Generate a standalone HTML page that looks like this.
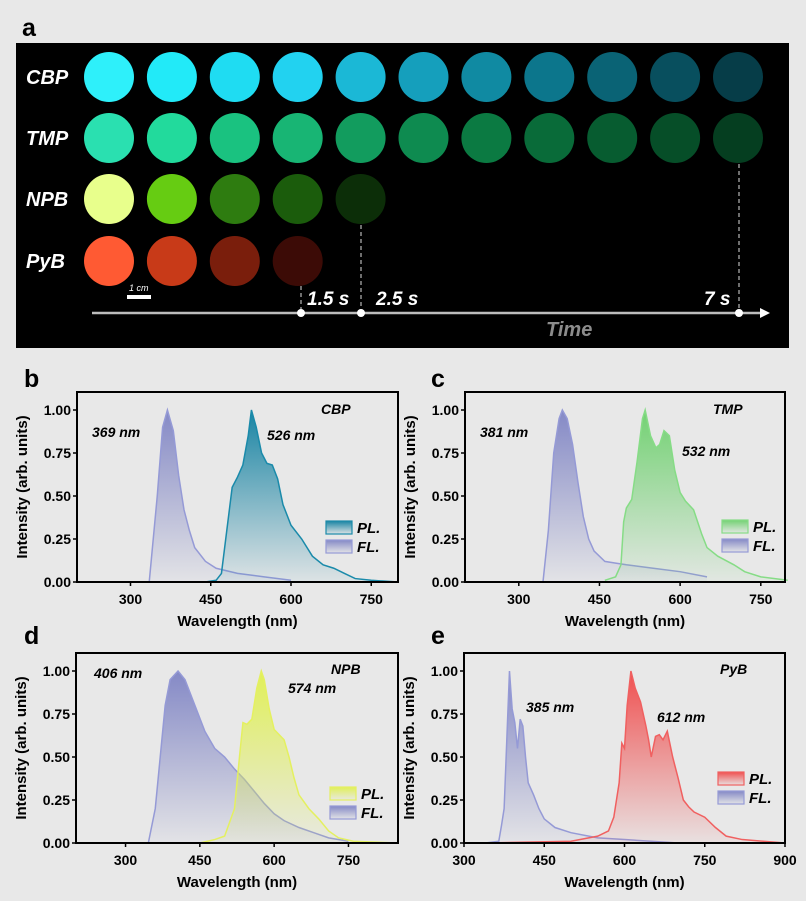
<!DOCTYPE html>
<html><head><meta charset="utf-8"><style>
html,body{margin:0;padding:0;background:#e8e8e8;}
svg{display:block;font-family:"Liberation Sans",sans-serif;}
</style></head><body>
<svg id="fig" width="806" height="901" viewBox="0 0 806 901">
<rect width="806" height="901" fill="#e8e8e8"/>
<text x="22" y="36" font-size="25" font-weight="bold">a</text>
<g id="photo">
<rect x="16" y="43" width="773" height="305" fill="#000"/>
</g>
</svg>
<script>
// Panel a colors
const cbpColors=["#2ef0fa","#22eaf8","#1fdcf2","#22d2f0","#1bb8d6","#159fbc","#108aa2","#0c768c","#0a6375","#084f5e","#063d48"];
const tmpColors=["#2ae0b0","#22da9c","#1ac280","#18b574","#129c5e","#0e8b50","#0b7a42","#096b39","#075c30","#064e28","#053e20"];
const npbColors=["#e8ff8c","#66cc12","#2e7c10","#1b5c0c","#0c2e08"];
const pybColors=["#ff5a33","#c83a18","#7a1e0c","#3c0b06"];
const rowLabels=["CBP","TMP","NPB","PyB"];
const timeLabels=["1.5 s","2.5 s","7 s"];

// Panel b (CBP)
const bFLx=[335,350,360,369,380,390,400,410,420,440,460,500,550,600];
const bFLy=[0,0.5,0.9,1.0,0.88,0.62,0.42,0.3,0.2,0.12,0.08,0.05,0.03,0.01];
const bPLx=[440,460,470,480,490,500,510,520,526,535,545,555,565,575,585,600,620,640,660,680,700,720,750,800];
const bPLy=[0,0.01,0.05,0.3,0.55,0.61,0.68,0.85,1.0,0.9,0.75,0.69,0.68,0.6,0.45,0.33,0.25,0.15,0.1,0.08,0.05,0.02,0.01,0];
// Panel c (TMP)
const cFLx=[345,355,365,375,381,390,400,410,420,430,440,460,480,500,550,600,650];
const cFLy=[0,0.3,0.75,0.95,1.0,0.95,0.8,0.58,0.38,0.25,0.18,0.12,0.11,0.1,0.08,0.06,0.03];
const cPLx=[460,480,490,495,500,510,520,530,535,545,555,562,570,580,590,600,610,625,640,650,670,700,720,750,800];
const cPLy=[0.01,0.03,0.1,0.35,0.43,0.48,0.7,0.95,1.0,0.85,0.78,0.8,0.88,0.85,0.65,0.52,0.47,0.42,0.28,0.2,0.15,0.1,0.06,0.03,0.01];
// Panel d (NPB)
const dFLx=[346,360,370,380,390,406,420,440,460,480,500,520,540,560,580,600,620,650,680,710,750];
const dFLy=[0,0.2,0.5,0.8,0.95,1.0,0.95,0.8,0.65,0.55,0.5,0.43,0.37,0.3,0.23,0.17,0.13,0.09,0.06,0.03,0.01];
const dPLx=[450,480,500,520,530,537,545,555,565,574,580,590,600,610,620,630,640,650,670,690,710,730,760,850];
const dPLy=[0,0.02,0.04,0.2,0.5,0.7,0.69,0.72,0.9,1.0,0.95,0.78,0.66,0.63,0.6,0.5,0.38,0.28,0.2,0.14,0.07,0.03,0.01,0];
// Panel e (PyB)
const eFLx=[340,365,370,375,380,385,390,395,400,405,410,415,420,430,440,450,470,500,550,600,650,700];
const eFLy=[0,0.01,0.1,0.2,0.6,1.0,0.78,0.7,0.55,0.72,0.68,0.5,0.35,0.28,0.2,0.14,0.09,0.06,0.03,0.02,0.01,0];
const ePLx=[340,500,550,570,580,590,595,600,605,612,620,630,640,645,650,658,665,672,680,690,700,710,720,730,750,770,790,820,900];
const ePLy=[0,0.01,0.04,0.07,0.15,0.35,0.58,0.55,0.8,1.0,0.9,0.82,0.68,0.6,0.5,0.62,0.63,0.6,0.65,0.5,0.38,0.25,0.21,0.18,0.15,0.09,0.04,0.02,0];

const yTicks=[0,0.25,0.5,0.75,1.0];
const yTickLabels=["0.00","0.25","0.50","0.75","1.00"];

const NS="http://www.w3.org/2000/svg";
const svg=document.getElementById('fig');
const photo=document.getElementById('photo');
function mk(tag,attrs,parent){const e=document.createElementNS(NS,tag);for(const k in attrs)e.setAttribute(k,attrs[k]);(parent||svg).appendChild(e);return e;}

// ---- Panel a ----
const rows=[cbpColors,tmpColors,npbColors,pybColors];
const rowY=[77,138,199,261];
rows.forEach((cols,r)=>{
  const lab=mk('text',{x:26,y:rowY[r]+7,fill:'#fff','font-size':20,'font-weight':'bold','font-style':'italic'},photo);
  lab.textContent=rowLabels[r];
  
  
  cols.forEach((c,i)=>{
    const cx=109+i*62.9;
    const circ=mk('circle',{cx:cx,cy:rowY[r],r:25,fill:c},photo);
    
    
  });
});
// timeline
const tl=mk('line',{x1:92,y1:313,x2:762,y2:313,stroke:'#bdbdbd','stroke-width':2.5},photo);


const ar=mk('polygon',{points:'760,308 770,313 760,318',fill:'#fff'},photo);


const dotX=[301,361,739],dotTop=[286,225,164],labX=[307,376,704];
dotX.forEach((x,i)=>{
  const dl=mk('line',{x1:x,y1:dotTop[i],x2:x,y2:313,stroke:'#aaa','stroke-width':1.3,'stroke-dasharray':'4,3'},photo);
  
  
  const d=mk('circle',{cx:x,cy:313,r:4,fill:'#fff'},photo);
  
  
  const t=mk('text',{x:labX[i],y:305,fill:'#fff','font-size':19,'font-weight':'bold','font-style':'italic'},photo);
  t.textContent=timeLabels[i];
  
  
});
const tt=mk('text',{x:546,y:336,fill:'#8c8c8c','font-size':20,'font-weight':'bold','font-style':'italic'},photo);
tt.textContent='Time';


const sb=mk('rect',{x:127,y:295,width:24,height:4,fill:'#fff'},photo);


const sbt=mk('text',{x:129,y:291,fill:'#fff','font-size':9,'font-style':'italic'},photo);
sbt.textContent='1 cm';



// ---- Spectra panels ----
const defs=mk('defs',{});
function grad(id,color){
  const g=mk('linearGradient',{id:id,x1:0,y1:0,x2:0,y2:1},defs);
  mk('stop',{offset:'0','stop-color':color,'stop-opacity':0.95},g);
  mk('stop',{offset:'1','stop-color':color,'stop-opacity':0.05},g);
}
function panel(cfg){
  const {L,R,T,B,y1,xmin,xmax,xticks,letter,lx,ly,name,flx,fly,plx,ply,plColor,plStroke,flLab,plLab,flLabPos,plLabPos,namePos,legX,legY}=cfg;
  const xs=v=>L+(v-xmin)/(xmax-xmin)*(R-L);
  const ys=v=>B-v*(B-y1);
  const pl=mk('text',{x:lx,y:ly,'font-size':25,'font-weight':'bold'});
  pl.textContent=letter;
  
  
  grad('g'+letter+'fl','#7f84c4');
  grad('g'+letter+'pl',plColor);
  function area(xa,ya,gid,stroke,nm){
    let d='M'+xs(xa[0])+','+B;
    xa.forEach((x,i)=>{d+=' L'+xs(x)+','+ys(ya[i]);});
    d+=' L'+xs(xa[xa.length-1])+','+B+' Z';
    const a=mk('path',{d:d,fill:'url(#'+gid+')',stroke:'none'});
    
    
    let l='';
    xa.forEach((x,i)=>{l+=(i?' L':'M')+xs(x)+','+ys(ya[i]);});
    const ln=mk('path',{d:l,fill:'none',stroke:stroke,'stroke-width':1.5});
    
    
  }
  area(flx,fly,'g'+letter+'fl','#959ad6','fl-spectrum');
  area(plx,ply,'g'+letter+'pl',plStroke,'pl-spectrum');
  const fr=mk('rect',{x:L,y:T,width:R-L,height:B-T,fill:'none',stroke:'#000','stroke-width':2});
  
  
  yTicks.forEach((v,i)=>{
    const tk=mk('line',{x1:L-4,y1:ys(v),x2:L,y2:ys(v),stroke:'#000','stroke-width':1.5});
    
    
    const t=mk('text',{x:L-6,y:ys(v)+5,'font-size':14,'font-weight':'bold','text-anchor':'end'});
    t.textContent=yTickLabels[i];
    
    
  });
  xticks.forEach(v=>{
    const tk=mk('line',{x1:xs(v),y1:B,x2:xs(v),y2:B+4,stroke:'#000','stroke-width':1.5});
    
    
    const t=mk('text',{x:xs(v),y:B+22,'font-size':14,'font-weight':'bold','text-anchor':'middle'});
    t.textContent=String(v);
    
    
  });
  const xt=mk('text',{x:(L+R)/2,y:B+44,'font-size':15,'font-weight':'bold','text-anchor':'middle'});
  xt.textContent='Wavelength (nm)';
  
  
  const yx=L-50,yy=(T+B)/2;
  const yt=mk('text',{x:yx,y:yy,'font-size':15,'font-weight':'bold','text-anchor':'middle',transform:'rotate(-90 '+yx+' '+yy+')'});
  yt.textContent='Intensity (arb. units)';
  
  
  const nt=mk('text',{x:namePos[0],y:namePos[1],'font-size':14,'font-weight':'bold','font-style':'italic'});
  nt.textContent=name;
  
  
  const f1=mk('text',{x:flLabPos[0],y:flLabPos[1],'font-size':14,'font-weight':'bold','font-style':'italic'});
  f1.textContent=flLab;
  
  
  const p1=mk('text',{x:plLabPos[0],y:plLabPos[1],'font-size':14,'font-weight':'bold','font-style':'italic'});
  p1.textContent=plLab;
  
  
  [['PL.','g'+letter+'pl',plStroke],['FL.','g'+letter+'fl','#959ad6']].forEach((e,i)=>{
    const r=mk('rect',{x:legX,y:legY+i*19,width:26,height:13,fill:'url(#'+e[1]+')',stroke:e[2],'stroke-width':1.2});
    
    
    const t=mk('text',{x:legX+31,y:legY+i*19+12,'font-size':15,'font-weight':'bold','font-style':'italic'});
    t.textContent=e[0];
    
    
  });
}
panel({L:77,R:398,T:392,B:582,y1:410,xmin:200,xmax:800,xticks:[300,450,600,750],letter:'b',lx:24,ly:387,name:'CBP',
  flx:bFLx,fly:bFLy,plx:bPLx,ply:bPLy,plColor:'#0e7fa0',plStroke:'#1a8aaa',flLab:'369 nm',plLab:'526 nm',
  flLabPos:[92,437],plLabPos:[267,440],namePos:[321,414],legX:326,legY:521});
panel({L:465,R:785,T:392,B:582,y1:410,xmin:200,xmax:795,xticks:[300,450,600,750],letter:'c',lx:431,ly:387,name:'TMP',
  flx:cFLx,fly:cFLy,plx:cPLx,ply:cPLy,plColor:'#6cd06c',plStroke:'#86dc86',flLab:'381 nm',plLab:'532 nm',
  flLabPos:[480,437],plLabPos:[682,456],namePos:[713,414],legX:722,legY:520});
panel({L:76,R:398,T:653,B:843,y1:671,xmin:200,xmax:850,xticks:[300,450,600,750],letter:'d',lx:24,ly:644,name:'NPB',
  flx:dFLx,fly:dFLy,plx:dPLx,ply:dPLy,plColor:'#e0f050',plStroke:'#e4f060',flLab:'406 nm',plLab:'574 nm',
  flLabPos:[94,678],plLabPos:[288,693],namePos:[331,674],legX:330,legY:787});
panel({L:464,R:785,T:653,B:843,y1:671,xmin:300,xmax:900,xticks:[300,450,600,750,900],letter:'e',lx:431,ly:644,name:'PyB',
  flx:eFLx,fly:eFLy,plx:ePLx,ply:ePLy,plColor:'#f04848',plStroke:'#f06060',flLab:'385 nm',plLab:'612 nm',
  flLabPos:[526,712],plLabPos:[657,722],namePos:[720,674],legX:718,legY:772});
</script>
</body></html>
